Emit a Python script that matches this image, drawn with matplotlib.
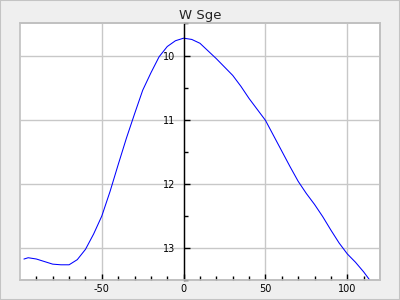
import matplotlib
matplotlib.use('Agg')
import matplotlib.pyplot as plt
from matplotlib.patches import Rectangle
from matplotlib.ticker import MultipleLocator, FixedLocator

# light curve (phase in days, magnitude)
phase = [-97.5, -95, -90, -85, -80, -75, -70, -65, -60, -55, -50, -45, -40, -35,
         -30, -25, -20, -15, -10, -5, 0, 5, 10, 15, 20, 25, 30, 35, 40, 45, 50,
         55, 60, 65, 70, 75, 80, 85, 90, 95, 100, 105, 110, 113.5]
mag = [13.17, 13.15, 13.17, 13.21, 13.25, 13.26, 13.26, 13.18, 13.02, 12.78,
       12.50, 12.12, 11.70, 11.29, 10.91, 10.54, 10.27, 10.02, 9.86, 9.77,
       9.73, 9.75, 9.81, 9.93, 10.05, 10.18, 10.31, 10.48, 10.67, 10.84,
       11.01, 11.25, 11.49, 11.73, 11.96, 12.15, 12.32, 12.51, 12.72, 12.92,
       13.09, 13.22, 13.37, 13.49]
minor_x = [-90, -80, -70, -60, -40, -30, -20, -10, 10, 20, 30, 40, 60, 70, 80, 90, 110]
title = "W Sge"

fig = plt.figure(figsize=(4, 3), dpi=100, facecolor='#efefef')
fig.patches.append(Rectangle((0, 0), 1, 1, transform=fig.transFigure,
                             fill=False, edgecolor='#c4c4c4', lw=1.5))
ax = fig.add_axes([0.05, 0.066, 0.9, 0.856])

ax.plot(phase, mag, color='#0000ff', lw=0.75)

ax.set_xlim(-100, 120)
ax.set_ylim(13.5, 9.5)
ax.xaxis.set_major_locator(FixedLocator([-50, 0, 50, 100]))
ax.xaxis.set_minor_locator(FixedLocator(minor_x))
ax.yaxis.set_major_locator(MultipleLocator(1))
ax.yaxis.set_minor_locator(MultipleLocator(0.5))

ax.grid(True, which='major', color='#c8c8c8', lw=1)
ax.set_axisbelow(True)

ax.spines['left'].set_position(('data', 0))
ax.spines['left'].set_color('black')
ax.spines['left'].set_linewidth(1)
for s in ['top', 'right', 'bottom']:
    ax.spines[s].set_color('#c0c0c0')
    ax.spines[s].set_linewidth(1.2)
ax.patch.set_edgecolor('#c0c0c0')
ax.patch.set_linewidth(1.2)

ax.tick_params(axis='both', which='both', direction='in', labelsize=7,
               colors='black', width=1)
ax.tick_params(axis='x', which='major', length=4, pad=3)
ax.tick_params(axis='x', which='minor', length=3)
ax.tick_params(axis='y', which='major', length=4.5, pad=6)
ax.tick_params(axis='y', which='minor', length=3)
ax.set_xticklabels(['-50', '0', '50', '100'])

ax.set_title(title, fontsize=9.5, color='#222222', pad=3)

fig.savefig('out.png', dpi=100, facecolor=fig.get_facecolor())
